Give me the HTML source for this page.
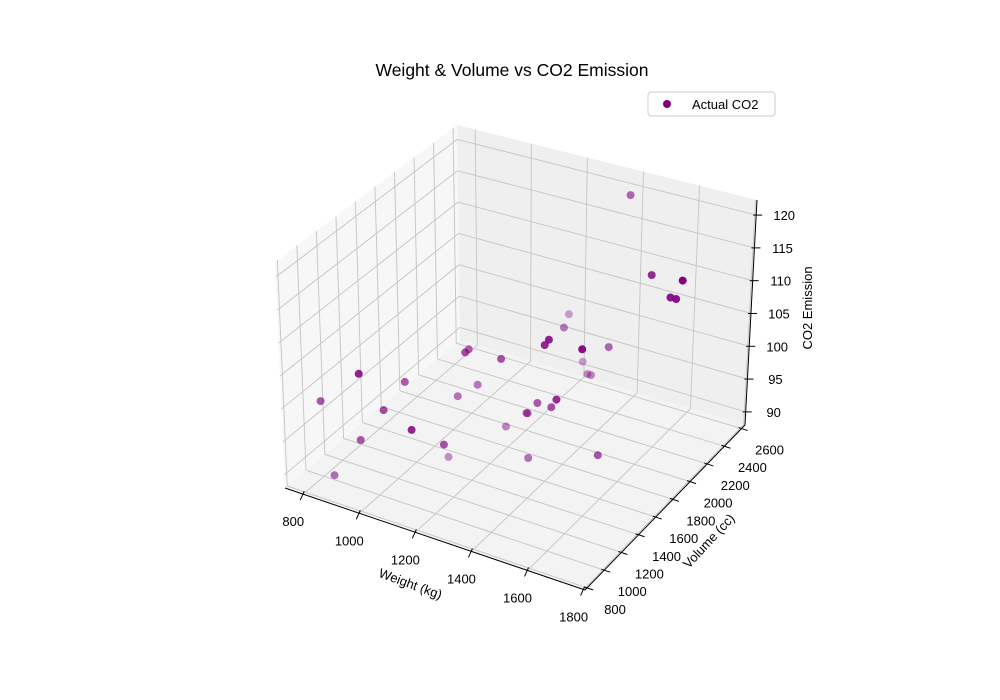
<!DOCTYPE html>
<html><head><meta charset="utf-8"><style>
body{margin:0;background:#fff;}
svg{display:block;font-family:"Liberation Sans","DejaVu Sans",sans-serif;}
</style></head><body>
<svg id="chart" width="1000" height="700" viewBox="0 0 1000 700">
<text x="512" y="76" text-anchor="middle" font-size="17.5">Weight &amp; Volume vs CO2 Emission</text>
<g id="panes"></g>
<g id="grid"></g>
<g id="axes"></g>
<g id="points"></g>
<g>
<rect x="648" y="92" width="127" height="24" rx="3" fill="#fff" stroke="#ccc"/>
<circle cx="667" cy="104" r="4" fill="#800080"/>
<text x="692" y="109" font-size="13">Actual CO2</text>
</g>
<text x="0" y="0" font-size="13" transform="translate(409,588) rotate(20)" text-anchor="middle">Weight (kg)</text>
<text x="0" y="0" font-size="13" transform="translate(712,544) rotate(-47)" text-anchor="middle">Volume (cc)</text>
<text x="0" y="0" font-size="13" transform="translate(812,308) rotate(-90)" text-anchor="middle">CO2 Emission</text>
</svg>
<script>
const weights=[790,1160,929,865,1140,929,1109,1365,1112,1150,980,990,1112,1252,1326,1330,1365,1280,1119,1328,1584,1428,1365,1415,1415,1465,1490,1725,1523,1705,1605,1746,1235,1390,1405,1395];
const volumes=[1000,1200,1000,900,1500,1000,1400,1500,1500,1600,1100,1300,1000,1600,1600,1600,1600,2200,1600,2000,1600,2000,2100,1600,2000,1500,2000,2000,1600,2000,2100,2000,1600,1600,1600,2500];
const co2=[99,95,95,90,105,105,90,92,98,99,99,101,99,94,97,97,99,104,104,105,94,99,99,99,99,102,104,114,109,114,115,117,104,108,109,120];
const xTicks=[800,1000,1200,1400,1600,1800];
const yTicks=[800,1000,1200,1400,1600,1800,2000,2200,2400,2600];
const zTicks=[90,95,100,105,110,115,120];
const XL=[735,1805],YL=[776,2640],ZL=[88,122.3];
const A=[285,488],B=[585,590],C=[745,425],D=[460,340];
const A2=[275,262],B2=[587,350],C2=[757,200],D2=[457,125];
const NS="http://www.w3.org/2000/svg";
function P(x,y,z){
 const u=(x-XL[0])/(XL[1]-XL[0]),v=(y-YL[0])/(YL[1]-YL[0]),w=(z-ZL[0])/(ZL[1]-ZL[0]);
 const bl=(a,b,c,d)=>[0,1].map(i=>a[i]*(1-u)*(1-v)+b[i]*u*(1-v)+c[i]*u*v+d[i]*(1-u)*v);
 const lo=bl(A,B,C,D),hi=bl(A2,B2,C2,D2);
 return [lo[0]*(1-w)+hi[0]*w,lo[1]*(1-w)+hi[1]*w];
}
function el(tag,attrs,parent){const e=document.createElementNS(NS,tag);for(const k in attrs)e.setAttribute(k,attrs[k]);parent.appendChild(e);return e;}
function poly(pts,fill,g,name){const e=el('polygon',{points:pts.map(p=>p.join(',')).join(' '),fill:fill},g);

}
const panes=document.getElementById('panes');
poly([P(XL[0],YL[0],ZL[0]),P(XL[1],YL[0],ZL[0]),P(XL[1],YL[1],ZL[0]),P(XL[0],YL[1],ZL[0])],'#f3f3f3',panes,'floor-pane');
poly([P(XL[0],YL[0],ZL[0]),P(XL[0],YL[1],ZL[0]),P(XL[0],YL[1],ZL[1]),P(XL[0],YL[0],ZL[1])],'#f7f7f7',panes,'left-pane');
poly([P(XL[0],YL[1],ZL[0]),P(XL[1],YL[1],ZL[0]),P(XL[1],YL[1],ZL[1]),P(XL[0],YL[1],ZL[1])],'#efefef',panes,'back-pane');
const grid=document.getElementById('grid');
function line(p,q,g,color,wd,name){const e=el('line',{x1:p[0],y1:p[1],x2:q[0],y2:q[1],stroke:color,'stroke-width':wd},g);

}
const gc='#c4c4c4';
xTicks.forEach(t=>{line(P(t,YL[0],ZL[0]),P(t,YL[1],ZL[0]),grid,gc,0.9,'grid-x-floor');line(P(t,YL[1],ZL[0]),P(t,YL[1],ZL[1]),grid,gc,0.9,'grid-x-back');});
yTicks.forEach(t=>{line(P(XL[0],t,ZL[0]),P(XL[1],t,ZL[0]),grid,gc,0.9,'grid-y-floor');line(P(XL[0],t,ZL[0]),P(XL[0],t,ZL[1]),grid,gc,0.9,'grid-y-left');});
zTicks.forEach(t=>{line(P(XL[0],YL[0],t),P(XL[0],YL[1],t),grid,gc,0.9,'grid-z-left');line(P(XL[0],YL[1],t),P(XL[1],YL[1],t),grid,gc,0.9,'grid-z-back');});
const axes=document.getElementById('axes');
line(P(XL[0],YL[0],ZL[0]),P(XL[1],YL[0],ZL[0]),axes,'#000',1,'x-axis-line');
line(P(XL[1],YL[0],ZL[0]),P(XL[1],YL[1],ZL[0]),axes,'#000',1,'y-axis-line');
line(P(XL[1],YL[1],ZL[0]),P(XL[1],YL[1],ZL[1]),axes,'#000',1,'z-axis-line');
function txt(x,y,s,anchor){const e=el('text',{x:x,y:y,'font-size':13,'text-anchor':anchor},axes);e.textContent=s;

}
xTicks.forEach(t=>{const p=P(t,YL[0],ZL[0]);line([p[0]+1,p[1]-3],[p[0]-3,p[1]+6],axes,'#000',1,'x-tick');txt(p[0]-10,p[1]+32,String(t),'middle');});
yTicks.forEach(t=>{const p=P(XL[1],t,ZL[0]);line([p[0]-3,p[1]-1],[p[0]+6,p[1]+2],axes,'#000',1,'y-tick');txt(p[0]+28,p[1]+26,String(t),'middle');});
zTicks.forEach(t=>{const p=P(XL[1],YL[1],t);line([p[0]-3,p[1]],[p[0]+6,p[1]],axes,'#000',1,'z-tick');txt(p[0]+28,p[1]+5,String(t),'middle');});
const pts=document.getElementById('points');
const rows=weights.map((w,i)=>{const u=(w-XL[0])/(XL[1]-XL[0]),v=(volumes[i]-YL[0])/(YL[1]-YL[0]),z=(co2[i]-ZL[0])/(ZL[1]-ZL[0]);
 return {i:i,d:0.43*u-0.75*v+0.5*z};});
const dmin=Math.min(...rows.map(r=>r.d)),dmax=Math.max(...rows.map(r=>r.d));
rows.sort((a,b)=>a.d-b.d).forEach(r=>{const i=r.i;const p=P(weights[i],volumes[i],co2[i]);
 const a=0.35+0.65*(r.d-dmin)/(dmax-dmin);
 const c=el('circle',{cx:(p[0]+2).toFixed(1),cy:(p[1]-2).toFixed(1),r:4,fill:'#800080','fill-opacity':a.toFixed(2)},pts);
 
 
});
</script>
</body></html>
